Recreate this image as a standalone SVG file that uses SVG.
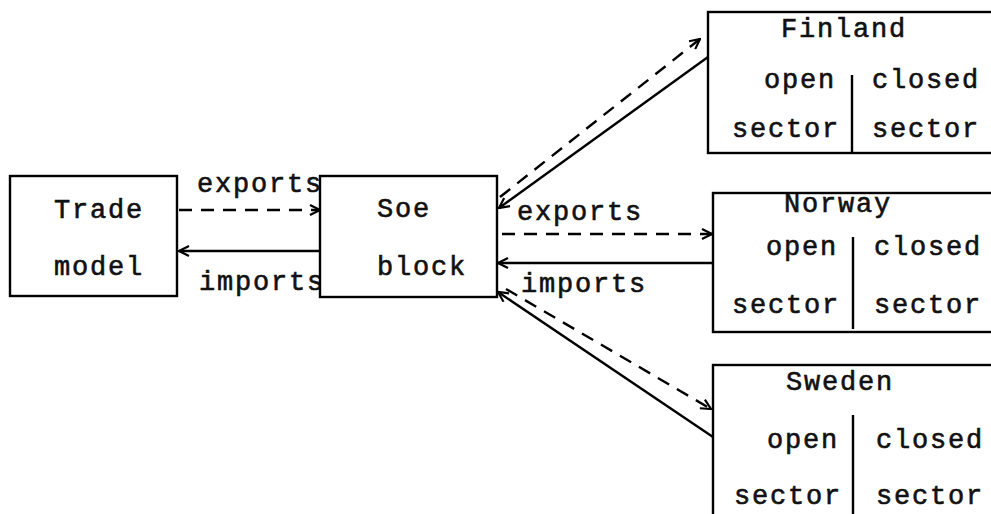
<svg xmlns="http://www.w3.org/2000/svg" width="991" height="514" viewBox="0 0 991 514">
<defs>
<marker id="ah" viewBox="0 0 12 12" refX="11" refY="6" markerWidth="12" markerHeight="12" markerUnits="userSpaceOnUse" orient="auto">
<path d="M1,1 L11,6 L1,11" fill="none" stroke="#000" stroke-width="2.2"/>
</marker>
</defs>
<style>
text{font-family:"Liberation Mono","Courier New",monospace;font-size:27px;letter-spacing:1.8px;fill:#111;stroke:#111;stroke-width:0.6}
.box{fill:#fff;stroke:#000;stroke-width:2.4}
.div{stroke:#000;stroke-width:2.4}
.sol{stroke:#000;stroke-width:2.4;fill:none}
.dash{stroke:#000;stroke-width:2.4;fill:none;stroke-dasharray:13 9}
</style>
<rect width="991" height="514" fill="#fff"/>
<g id="connectors">
<line class="dash" x1="179" y1="210" x2="320" y2="210" marker-end="url(#ah)"/>
<line class="sol" x1="320" y1="251" x2="179" y2="251" marker-end="url(#ah)"/>
<line class="dash" x1="500" y1="197" x2="700" y2="39" marker-end="url(#ah)"/>
<line class="sol" x1="708" y1="57" x2="499" y2="208" marker-end="url(#ah)"/>
<line class="dash" x1="502" y1="234" x2="712" y2="234" marker-end="url(#ah)"/>
<line class="sol" x1="712" y1="263" x2="498" y2="263" marker-end="url(#ah)"/>
<line class="sol" x1="713" y1="437" x2="498" y2="292" marker-end="url(#ah)"/>
<line class="dash" x1="506" y1="289" x2="711" y2="409" marker-end="url(#ah)"/>
<text x="197" y="192">exports</text>
<text x="199" y="290">imports</text>
<text x="517" y="220">exports</text>
<text x="521" y="292">imports</text>
</g>
<g id="trade">
<rect class="box" x="10" y="176" width="167" height="120"/>
<text x="54" y="218">Trade</text>
<text x="54" y="275">model</text>
</g>
<g id="soe">
<rect class="box" x="320" y="176" width="177" height="121"/>
<text x="377" y="217">Soe</text>
<text x="377" y="275">block</text>
</g>
<g id="finland">
<rect class="box" x="708" y="12" width="300" height="141"/>
<line class="div" x1="852" y1="75" x2="852" y2="152"/>
<text x="781" y="37">Finland</text>
<text x="764" y="88">open</text>
<text x="872" y="88">closed</text>
<text x="732" y="137">sector</text>
<text x="872" y="137">sector</text>
</g>
<g id="norway">
<rect class="box" x="713" y="193" width="300" height="139"/>
<line class="div" x1="853" y1="237" x2="853" y2="329"/>
<text x="784" y="212">Norway</text>
<text x="766" y="255">open</text>
<text x="874" y="255">closed</text>
<text x="732" y="313">sector</text>
<text x="874" y="313">sector</text>
</g>
<g id="sweden">
<rect class="box" x="713" y="365" width="300" height="170"/>
<line class="div" x1="853" y1="415" x2="853" y2="514"/>
<text x="786" y="390">Sweden</text>
<text x="767" y="448">open</text>
<text x="876" y="448">closed</text>
<text x="734" y="504">sector</text>
<text x="876" y="504">sector</text>
</g>
</svg>
